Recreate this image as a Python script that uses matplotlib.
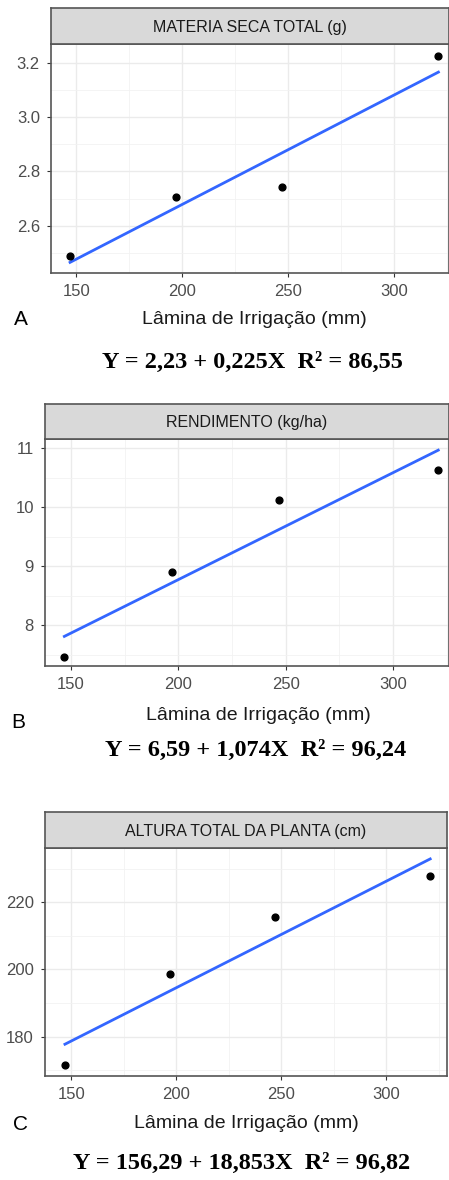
import numpy as np
import matplotlib
matplotlib.use("Agg")
from matplotlib import pyplot as plt

# data
lamina = [147, 197, 247, 321]
materia_seca = [2.489, 2.707, 2.742, 3.228]
rendimento = [7.47, 8.90, 10.13, 10.63]
altura = [171.5, 198.6, 215.7, 227.8]

titles = ["MATERIA SECA TOTAL (g)", "RENDIMENTO (kg/ha)", "ALTURA TOTAL DA PLANTA (cm)"]
letters = ["A", "B", "C"]
equations = ["Y = 2,23 + 0,225X  R² = 86,55",
             "Y = 6,59 + 1,074X  R² = 96,24",
             "Y = 156,29 + 18,853X  R² = 96,82"]
xticks = [150, 200, 250, 300]
yticks = [[2.6, 2.8, 3.0, 3.2], [8, 9, 10, 11], [180, 200, 220]]
yticklabels = [["2.6", "2.8", "3.0", "3.2"], ["8", "9", "10", "11"], ["180", "200", "220"]]
yminor = [[2.5, 2.7, 2.9, 3.1], [7.5, 8.5, 9.5, 10.5], [170, 190, 210, 230]]

W, H = 449, 1180
SANS = ["Liberation Sans Narrow", "Liberation Sans", "DejaVu Sans"]
SERIF = ["Liberation Serif", "DejaVu Serif"]

# pixel layout: left, right, top, bottom of plot, strip top, ylim, xlim
layout = [
  dict(l=51, r=449, t=44, b=273, st=8, ylim=(2.425, 3.271), xlim=(138, 326),
       letter=(21, 320), xlab=(254, 320), eq=(252, 362)),
  dict(l=45, r=449, t=439, b=666, st=404, ylim=(7.31, 11.16), xlim=(138, 326),
       letter=(18, 723), xlab=(258, 715), eq=(256, 750)),
  dict(l=45, r=447, t=848, b=1076, st=812, ylim=(168.3, 236.1), xlim=(137.5, 329),
       letter=(20, 1125), xlab=(246, 1123), eq=(242, 1163)),
]
series = [materia_seca, rendimento, altura]

fig = plt.figure(figsize=(W / 100, H / 100), dpi=100)

def fx(px):
  return px / W
def fy(py):
  return 1 - py / H

for i in range(3):
  L = layout[i]
  ax = fig.add_axes([fx(L["l"]), fy(L["b"]), (L["r"] - L["l"]) / W, (L["b"] - L["t"]) / H])
  ax.set_xlim(L["xlim"])
  ax.set_ylim(L["ylim"])
  ax.set_xticks(xticks)
  ax.set_xticks([175, 225, 275, 325], minor=True)
  ax.set_yticks(yticks[i])
  ax.set_yticks(yminor[i], minor=True)
  ax.set_xticklabels([str(t) for t in xticks], fontfamily=SANS, fontsize=12, color="#4d4d4d")
  ax.set_yticklabels(yticklabels[i], fontfamily=SANS, fontsize=12, color="#4d4d4d")
  ax.tick_params(which="major", length=3, width=0.8, color="#333333", pad=5)
  ax.tick_params(which="minor", length=0)
  ax.grid(which="major", color="#ebebeb", linewidth=1.0)
  ax.grid(which="minor", color="#f2f2f2", linewidth=0.6)
  ax.set_axisbelow(True)
  for s in ax.spines.values():
    s.set_color("#555555")
    s.set_linewidth(1.2)

  # fitted line like geom_smooth(method = "lm")
  x = np.array(lamina, dtype=float)
  y = np.array(series[i], dtype=float)
  m, b = np.polyfit(x, y, 1)
  xs = np.linspace(x.min(), x.max(), 50)
  ax.plot(xs, m * xs + b, color="#3366FF", linewidth=2.0, zorder=3)
  ax.scatter(x, y, s=24, color="black", zorder=4)

  # strip
  sax = fig.add_axes([fx(L["l"]), fy(L["t"]), (L["r"] - L["l"]) / W, (L["t"] - L["st"]) / H])
  sax.set_facecolor("#d9d9d9")
  sax.set_xticks([])
  sax.set_yticks([])
  for s in sax.spines.values():
    s.set_color("#555555")
    s.set_linewidth(1.2)
  sax.text(0.5, 0.47, titles[i], ha="center", va="center", fontsize=11.5,
           fontfamily=SANS, color="#1a1a1a", transform=sax.transAxes)

  fig.text(fx(L["letter"][0]), fy(L["letter"][1]), letters[i], ha="center", va="center",
           fontsize=15, fontfamily=SANS, color="black")
  fig.text(fx(L["xlab"][0]), fy(L["xlab"][1]), "Lâmina de Irrigação (mm)", ha="center",
           va="center", fontsize=14, fontfamily=SANS, color="#1a1a1a")
  fig.text(fx(L["eq"][0]), fy(L["eq"][1]), equations[i], ha="center", va="center",
           fontsize=17.5, fontweight="bold", fontfamily=SERIF, color="black")

fig.savefig("out.png", dpi=100)
